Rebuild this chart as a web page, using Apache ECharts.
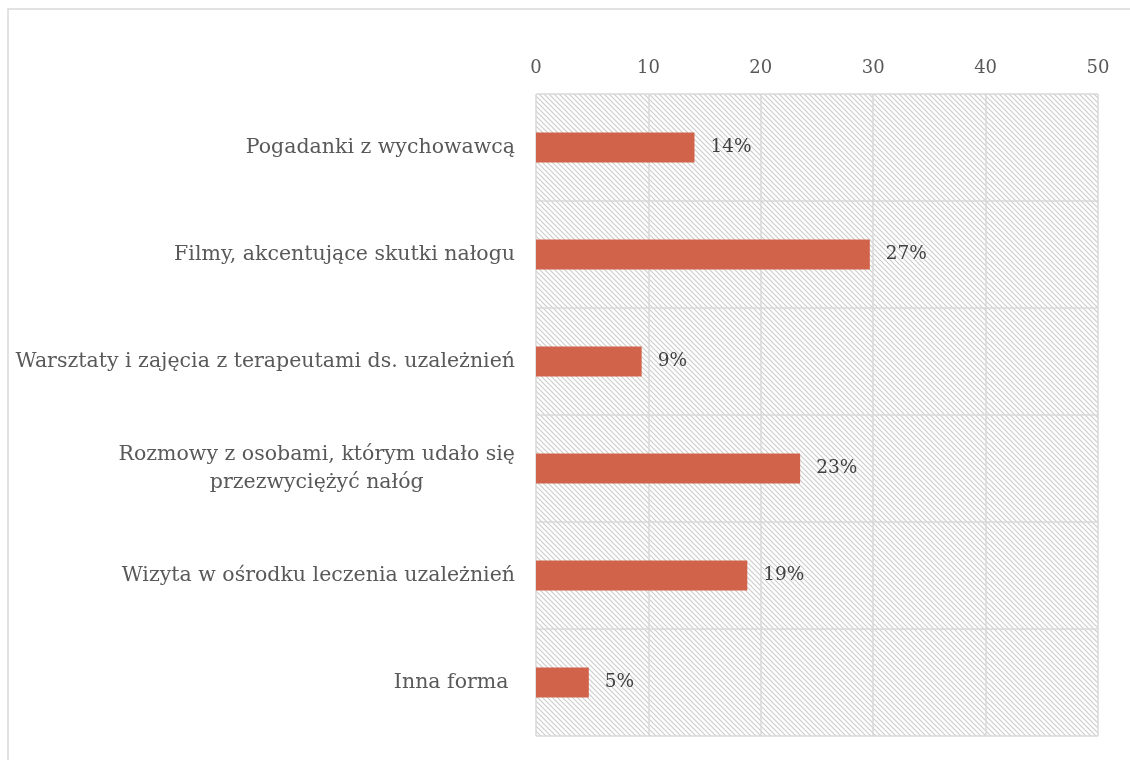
<!DOCTYPE html>
<html>
<head>
<meta charset="utf-8">
<script src="https://cdn.jsdelivr.net/npm/echarts@6/dist/echarts.min.js"></script>
<style>
  html, body { margin: 0; padding: 0; background: #fff; }
  #main { width: 1130px; height: 760px; }
</style>
</head>
<body>
<div id="main"></div>
<script>
// kategorie (od góry)
var categories = [
  'Pogadanki z wychowawcą',
  'Filmy, akcentujące skutki nałogu',
  'Warsztaty i zajęcia z terapeutami ds. uzależnień',
  'Rozmowy z osobami, którym udało się\nprzezwyciężyć nałóg',
  'Wizyta w ośrodku leczenia uzależnień',
  'Inna forma '
];
var values = [14.1, 29.7, 9.4, 23.5, 18.8, 4.7];
// etykiety danych
var dataLabels = ['14%', '27%', '9%', '23%', '19%', '5%'];
var axisTicks = [0, 10, 20, 30, 40, 50];

var FONT = '"DejaVu Serif", "Liberation Serif", serif';
var CAT_SIZE = 20.5;

// wzór ukośnych kresek tła
function hatch() {
  var n = 5;
  var c = document.createElement('canvas');
  c.width = n; c.height = n;
  var ctx = c.getContext('2d');
  ctx.fillStyle = '#ffffff';
  ctx.fillRect(0, 0, n, n);
  ctx.strokeStyle = '#cdcdcd';
  ctx.lineWidth = 1.2;
  ctx.beginPath();
  ctx.moveTo(-1, -1); ctx.lineTo(n + 1, n + 1);
  ctx.moveTo(-1, n - 1); ctx.lineTo(1, n + 1);
  ctx.moveTo(n - 1, -1); ctx.lineTo(n + 1, 1);
  ctx.stroke();
  return c;
}

function textWidth(s, size) {
  var ctx = document.createElement('canvas').getContext('2d');
  ctx.font = size + 'px ' + FONT;
  return ctx.measureText(s).width;
}

var chart = echarts.init(document.getElementById('main'));

var option = {
  animation: false,
  backgroundColor: '#fff',
  graphic: [{
    type: 'rect',
    shape: { x: 8, y: 9, width: 1200, height: 800 },
    style: { fill: 'none', stroke: '#d9d9d9', lineWidth: 1.5 },
    silent: true
  }],
  grid: {
    left: 536, right: 32, top: 94, bottom: 24,
    show: true,
    backgroundColor: { image: hatch(), repeat: 'repeat' },
    borderWidth: 0
  },
  xAxis: {
    type: 'value',
    position: 'top',
    min: axisTicks[0],
    max: axisTicks[axisTicks.length - 1],
    interval: 10,
    axisLine: { show: false },
    axisTick: { show: false },
    axisLabel: { color: '#595959', fontFamily: FONT, fontSize: 18, margin: 17 },
    splitLine: { show: true, lineStyle: { color: '#d9d9d9', width: 1.5 } }
  },
  yAxis: {
    type: 'category',
    inverse: true,
    data: categories,
    axisLine: { show: false },
    axisTick: { show: false },
    splitLine: { show: true, lineStyle: { color: '#d9d9d9', width: 1.5 } },
    axisLabel: {
      color: '#595959', fontFamily: FONT, fontSize: CAT_SIZE, margin: 21, lineHeight: 28,
      formatter: function (v) {
        if (v.indexOf('\n') < 0) return v;
        return v.split('\n').map(function (l) { return '{c|' + l + '}'; }).join('\n');
      },
      rich: {
        c: {
          color: '#595959', fontFamily: FONT, fontSize: CAT_SIZE, lineHeight: 28, align: 'center',
          width: textWidth('Rozmowy z osobami, którym udało się', CAT_SIZE)
        }
      }
    }
  },
  series: [{
    type: 'bar',
    data: values,
    barWidth: 30,
    itemStyle: { color: '#d0634a' },
    label: {
      show: true,
      position: 'right',
      distance: 16,
      color: '#404040',
      fontFamily: FONT,
      fontSize: 18.5,
      formatter: function (p) { return dataLabels[p.dataIndex]; }
    }
  }]
};

chart.setOption(option);
</script>
</body>
</html>
